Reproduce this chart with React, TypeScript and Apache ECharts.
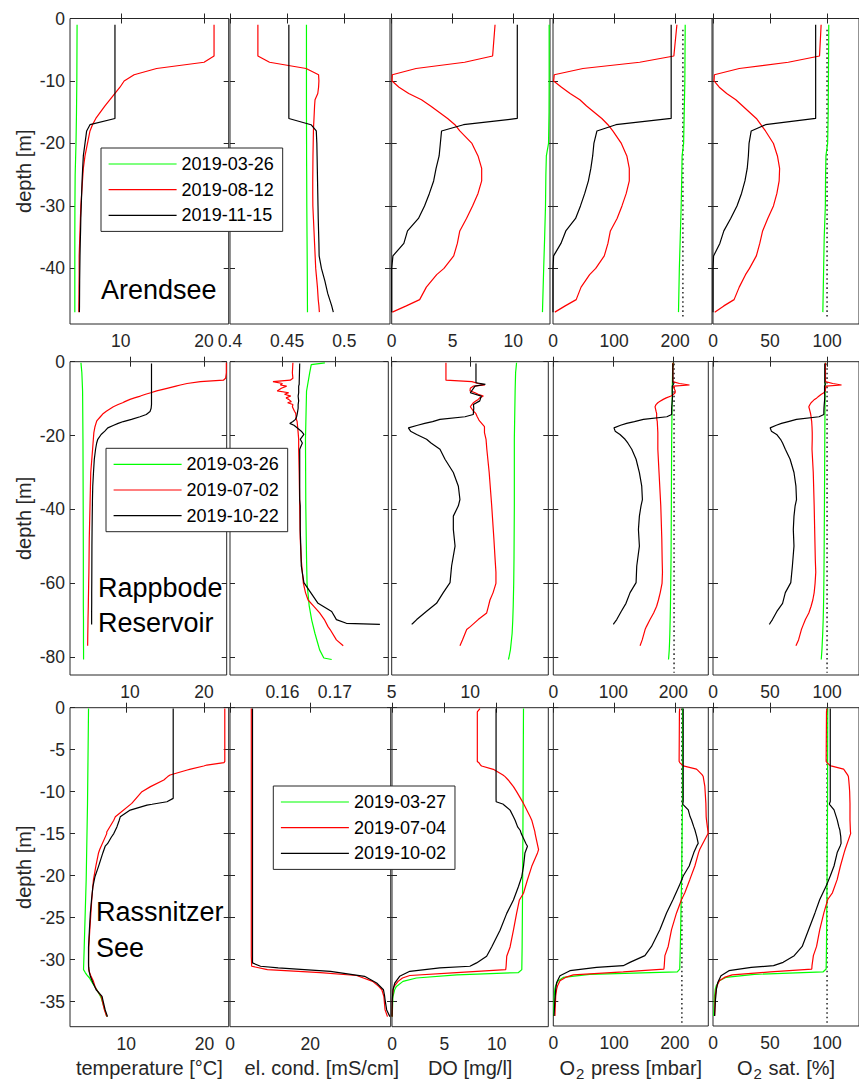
import React, { useEffect, useRef } from 'react';
import * as echarts from 'echarts';

const FONT = '"Liberation Sans", Arial, Helvetica, sans-serif';
const AX = '#262626';
const COLORS = ['#00ff00', '#ff0000', '#000000'];

// ---------------- Arendsee ----------------
const arendseeDates = ['2019-03-26', '2019-08-12', '2019-11-15'];

const aMarDepth = [-1, -10, -15, -20, -22, -25, -30, -35, -40, -47];
const aMarTemp = [4.75, 4.72, 4.68, 4.62, 4.58, 4.52, 4.49, 4.48, 4.48, 4.48];
const aMarCond = [0.4669, 0.4669, 0.4669, 0.467, 0.467, 0.4671, 0.4672, 0.4674, 0.4676, 0.4678];
const aMarDO = [12.95, 12.95, 12.94, 12.9, 12.72, 12.68, 12.65, 12.58, 12.5, 12.4];
const aMarO2P = [216.6, 216, 215, 214, 211.5, 211, 210, 208.5, 207, 205.6];
const aMarO2S = [101.5, 101.2, 101, 100.5, 99, 98.7, 98.5, 97.5, 97, 96.3];

const aAugDepth = [-1, -6, -7, -8, -9, -10, -11, -12, -13, -14, -16, -17, -18, -20, -22, -24, -26, -28, -30, -32, -34, -36, -38, -40, -41, -43, -45, -46, -47];
const aAugTemp = [21.2, 21.2, 20.0, 14.3, 11.6, 10.4, 9.9, 9.3, 8.7, 8.1, 7.0, 6.6, 6.3, 6.0, 5.7, 5.5, 5.4, 5.3, 5.2, 5.15, 5.1, 5.05, 5.0, 5.0, 5.0, 4.98, 4.97, 4.96, 4.96];
const aAugCond = [0.4244, 0.4244, 0.4346, 0.4666, 0.4775, 0.4778, 0.4775, 0.4768, 0.4744, 0.474, 0.4735, 0.4732, 0.473, 0.4728, 0.4726, 0.4725, 0.4724, 0.4724, 0.4725, 0.473, 0.4735, 0.474, 0.4745, 0.475, 0.4755, 0.4765, 0.4772, 0.4778, 0.4782];
const aAugDO = [8.5, 8.3, 6.0, 2.0, 0.05, 0.03, 0.6, 1.4, 2.45, 3.2, 4.6, 5.2, 5.6, 6.6, 7.1, 7.4, 7.4, 7.1, 6.65, 6.15, 5.6, 5.4, 5.1, 4.3, 3.7, 2.85, 2.3, 1.2, 0.05];
const aAugO2P = [203, 198, 142, 49, 2, 1, 14, 28, 44, 55, 80, 90, 98, 112, 121, 125, 125, 120, 113, 105, 94, 90, 84, 70, 60, 46, 38, 20, 3];
const aAugO2S = [94.8, 93.4, 66, 23, 1.2, 0.9, 5.5, 12, 20, 26, 38, 42, 46, 53, 56.5, 58.4, 58, 56, 53, 48, 43.5, 41, 38, 32, 28.5, 23, 18.5, 9.5, 1.5];

const aNovDepth = [-1, -16, -17, -18, -20, -22, -24, -26, -28, -30, -32, -34, -36, -38, -40, -42, -44, -46, -47];
const aNovTemp = [9.3, 9.3, 6.3, 5.9, 5.7, 5.5, 5.42, 5.35, 5.3, 5.25, 5.2, 5.17, 5.13, 5.1, 5.08, 5.06, 5.05, 5.04, 5.03];
const aNovCond = [0.4515, 0.4515, 0.4709, 0.4755, 0.476, 0.4762, 0.4764, 0.4766, 0.4768, 0.477, 0.4772, 0.4775, 0.4778, 0.478, 0.48, 0.483, 0.4855, 0.489, 0.4904];
const aNovDO = [10.33, 10.33, 5.9, 4.1, 4.0, 3.9, 3.65, 3.45, 3.1, 2.7, 2.2, 1.3, 1.0, 0.1, 0, 0, 0, 0, 0];
const aNovO2P = [193.6, 193.6, 103, 72, 67, 65, 62, 58, 52, 45, 37, 21, 13, 1, 0, 0, 0, 0, 0];
const aNovO2S = [90, 90, 46, 33.5, 31.6, 31, 30, 28, 25, 21, 15.5, 9.5, 6, 0.5, 0, 0, 0, 0, 0];

// ---------------- Rappbode Reservoir ----------------
const rappbodeDates = ['2019-03-26', '2019-07-02', '2019-10-22'];

const bMarDepth = [-0.3, -0.8, -3, -8, -21, -39, -53, -60, -66, -70, -73.5, -76, -78, -80.2, -80.6];
const bMarTemp = [3.38, 3.4, 3.5, 3.6, 3.65, 3.68, 3.7, 3.7, 3.7, 3.72, 3.72, 3.72, 3.73, 3.73, 3.73];
const bMarCond = [0.1681, 0.1655, 0.1652, 0.1646, 0.1644, 0.16446, 0.1646, 0.1647, 0.1651, 0.1656, 0.1662, 0.1667, 0.1671, 0.1679, 0.1694];
const bMarDO = [12.94, 12.93, 12.88, 12.85, 12.8, 12.8, 12.78, 12.76, 12.73, 12.7, 12.66, 12.6, 12.55, 12.45, 12.42];
const bMarO2P = [199, 199, 198.5, 198, 197, 196.5, 196, 195.5, 195, 194.5, 194, 193.5, 193, 192, 191.7];
const bMarO2S = [98.6, 98.6, 98.5, 98.3, 98, 97.7, 97.4, 97.2, 96.9, 96.6, 96.2, 95.8, 95.5, 95, 94.9];

const bJulDepth = [-0.3, -3, -4.5, -5, -5.4, -5.9, -6.3, -6.6, -7.2, -7.9, -8.4, -8.8, -9.3, -9.8, -10.2, -10.8, -11.1, -11.6, -12.2, -13.4, -14, -14.9, -15.8, -16.1, -17.6, -19.2, -21, -23.7, -30, -39, -48, -53.7, -57, -60, -62.5, -64.5, -66.2, -68, -69.8, -71.7, -72.5, -75.3, -76.9];
const bJulTemp = [23.0, 23.0, 22.9, 22.6, 19.5, 17.7, 16.8, 16.2, 15.0, 13.6, 12.8, 12.1, 11.4, 10.6, 10.0, 9.3, 9.0, 8.4, 7.75, 6.8, 6.4, 6.0, 5.6, 5.5, 5.27, 5.12, 5.05, 4.95, 4.7, 4.6, 4.5, 4.47, 4.45, 4.42, 4.4, 4.38, 4.37, 4.35, 4.33, 4.32, 4.31, 4.29, 4.28];
const bJulCond = [0.162, 0.1619, 0.162, 0.1615, 0.1582, 0.16, 0.1596, 0.1608, 0.1598, 0.159, 0.1612, 0.1604, 0.1616, 0.1607, 0.1612, 0.1617, 0.161, 0.162, 0.1619, 0.1623, 0.16255, 0.1626, 0.1627, 0.1628, 0.1629, 0.163, 0.1631, 0.1631, 0.1632, 0.1633, 0.1634, 0.1636, 0.1638, 0.164, 0.1644, 0.1649, 0.166, 0.1671, 0.168, 0.1687, 0.1691, 0.1703, 0.1716];
const bJulDO = [8.45, 8.45, 8.45, 8.45, 10.1, 10.5, 10.93, 10.2, 10.0, 9.98, 10.3, 10.5, 10.83, 10.6, 10.5, 10.3, 10.2, 10.1, 10.0, 10.2, 10.35, 10.44, 10.55, 10.6, 10.9, 10.9, 11.0, 11.05, 11.2, 11.36, 11.5, 11.58, 11.63, 11.63, 11.45, 11.25, 11.15, 11.04, 10.5, 10.0, 9.77, 9.5, 9.34];
const bJulO2P = [199, 199, 199, 199, 199, 210, 226.7, 200, 201, 203, 202.8, 200, 196, 188, 183, 177, 174, 171, 169.4, 171, 172, 172, 172.5, 173, 173.5, 174, 174, 174, 176, 178.9, 180.6, 181.2, 181.7, 181, 178, 175, 172, 167, 161, 155, 152.8, 148, 144.4];
const bJulO2S = [98.6, 98.6, 98.6, 98.6, 98.6, 105, 112.7, 99, 98.6, 98.5, 97.2, 95, 93, 91, 89, 87, 86, 85, 84, 85, 85.5, 86, 86.3, 86.5, 86.8, 87, 87, 86.8, 87.9, 88.7, 89.3, 89.7, 90.1, 89.5, 88.7, 87.5, 86, 84, 81, 78.5, 77.5, 75, 72.7];

const bOctDepth = [-0.5, -5.7, -6.1, -6.6, -8.4, -9.3, -10.6, -11.6, -12.6, -13.5, -14.3, -14.9, -15.6, -16.2, -16.7, -17.2, -17.9, -18.8, -19.7, -21, -22, -23.7, -26.4, -30, -33.7, -37.3, -39, -41.8, -45.4, -49.9, -55.3, -59.8, -62.5, -65.4, -67.6, -69.8, -70.8, -71.1];
const bOctTemp = [12.9, 12.9, 12.9, 12.9, 12.9, 12.9, 12.9, 12.9, 12.85, 12.7, 12.2, 11.35, 10.2, 9.1, 8.4, 7.8, 7.0, 6.6, 6.1, 5.65, 5.5, 5.35, 5.18, 5.07, 4.97, 4.93, 4.92, 4.9, 4.88, 4.86, 4.85, 4.84, 4.83, 4.83, 4.82, 4.82, 4.82, 4.82];
const bOctCond = [0.1633, 0.1632, 0.1632, 0.1631, 0.1631, 0.163, 0.1631, 0.163, 0.163, 0.1629, 0.1628, 0.1627, 0.1625, 0.162, 0.1614, 0.1622, 0.1628, 0.1636, 0.1641, 0.1634, 0.1638, 0.1633, 0.1633, 0.1633, 0.1633, 0.1633, 0.1634, 0.1634, 0.1634, 0.1635, 0.1636, 0.1641, 0.1654, 0.1668, 0.1694, 0.1703, 0.1722, 0.1786];
const bOctDO = [10.36, 10.36, 10.96, 10.3, 10.0, 10.7, 10.6, 10.2, 10.22, 10.2, 10.19, 9.66, 8.07, 7.6, 7.1, 6.65, 6.06, 6.2, 6.59, 7.22, 7.5, 8.07, 8.39, 8.92, 9.24, 9.34, 9.24, 8.92, 8.92, 9.03, 8.81, 8.71, 8.28, 7.85, 7.2, 6.59, 6.35, 6.27];
const bOctO2P = [199, 199, 200, 198, 198, 198.5, 198, 197.5, 197, 197, 197, 189, 150, 135, 122, 112, 101, 103, 111, 119.4, 124, 130.6, 137.8, 143.3, 147.2, 148.3, 146, 143.3, 141.7, 143.3, 138.9, 137.8, 127.8, 121, 113, 105.6, 101, 100];
const bOctO2S = [98, 98, 98.5, 97.8, 97.8, 98, 97.8, 97.5, 97.3, 97.2, 97.2, 93, 73.2, 66, 60, 55.5, 50.1, 51.2, 55.8, 59.2, 61, 63.4, 67.6, 71, 72.7, 73.2, 72, 71, 70.4, 71, 69.6, 68.2, 63.4, 61, 56, 52.1, 50, 49.3];

// ---------------- Rassnitzer See ----------------
const rassnitzerDates = ['2019-03-27', '2019-07-04', '2019-10-02'];

const cMarDepth = [-0.1, -11.4, -20.5, -28.5, -31.2, -31.55, -31.83, -32.2, -32.6, -33.2, -33.6, -34.4, -34.6, -36.8];
const cMarTemp = [5.17, 5.04, 4.87, 4.62, 4.53, 4.75, 4.95, 5.3, 5.55, 5.95, 6.24, 6.7, 6.8, 7.5];
const cMarDO = [12.56, 12.52, 12.48, 12.43, 12.4, 12.08, 6.2, 2.33, 1.05, 0.42, 0.25, 0.1, 0.08, 0.02];
const cMarO2P = [212.6, 212.5, 211, 209, 208, 204, 60, 16.4, 8.2, 3.8, 2.5, 1.6, 1.4, 0.5];
const cMarO2S = [100.6, 100.4, 100, 99.5, 99.2, 96.4, 36.3, 11.2, 5.6, 2.8, 2, 1.4, 1.2, 0.6];

const cJulDepth = [-0.1, -0.5, -6.4, -6.55, -6.83, -6.94, -7.34, -7.42, -8.02, -8.21, -8.61, -9.4, -10, -11.4, -13, -13.4, -14.8, -15, -16.9, -17.3, -18.9, -20.5, -22.1, -22.9, -24.5, -26.5, -28.5, -29.6, -30.8, -31.2, -31.55, -31.9, -32.2, -32.6, -33.2, -33.6, -34.4, -36, -36.8];
const cJulTemp = [22.6, 22.6, 22.6, 22.5, 20.3, 19.9, 18.1, 17.8, 15.6, 15.3, 14.8, 13.1, 12.0, 10.7, 8.6, 8.4, 7.5, 7.5, 6.6, 6.45, 6.1, 5.8, 5.65, 5.58, 5.47, 5.33, 5.2, 5.18, 5.17, 5.2, 5.3, 5.45, 5.6, 5.8, 6.0, 6.2, 6.8, 7.2, 7.5];
const cJulCond = [5.3, 5.3, 5.3, 5.3, 5.3, 5.3, 5.3, 5.3, 5.3, 5.3, 5.3, 5.3, 5.3, 5.3, 5.3, 5.3, 5.3, 5.3, 5.3, 5.3, 5.3, 5.3, 5.3, 5.3, 5.3, 5.3, 5.3, 5.3, 5.4, 9.3, 22.5, 31.5, 33.2, 35.5, 37, 37.8, 38.3, 38.6, 39.2];
const cJulDO = [8.4, 8.15, 8.15, 8.3, 8.45, 8.56, 9.68, 9.8, 10.6, 10.8, 11.1, 11.6, 11.9, 12.56, 13.2, 13.35, 13.65, 13.67, 14.0, 13.9, 13.35, 12.94, 12.56, 12.17, 11.9, 11.6, 11.28, 10.96, 10.9, 10.86, 6.17, 1.7, 1.0, 0.58, 0.2, 0.1, 0.05, 0.02, 0];
const cJulO2P = [208, 207.5, 207, 208, 212, 213.7, 235.6, 237, 245, 246.6, 247.5, 249.3, 249.8, 251, 251.5, 252, 254.5, 254.8, 241, 239, 232.9, 224.7, 216.4, 211, 202.7, 194.5, 189, 183.6, 182.5, 182, 115, 32.9, 20, 11, 7, 5.5, 4, 3, 2.7];
const cJulO2S = [100, 99.5, 99.2, 100, 102, 103.4, 114.5, 115, 118, 118.7, 119, 119.5, 119.8, 120.1, 120.1, 120.1, 120.5, 120.7, 115.9, 115, 111.7, 108.9, 104.7, 100.6, 97.2, 93.6, 90.8, 88, 86.8, 86.6, 50.3, 16.8, 10, 5.6, 3.5, 2.8, 2, 1.6, 1.4];

const cOctDepth = [-0.1, -10.8, -11.2, -11.5, -11.6, -12.2, -13, -13.4, -14.2, -14.6, -15, -15.4, -16.2, -16.5, -17.3, -18.9, -20.1, -21.3, -22.9, -24.5, -26.5, -28.5, -29.6, -30.4, -30.8, -31.0, -31.4, -32, -32.8, -33.6, -34.4, -34.8, -36, -36.8];
const cOctTemp = [16.0, 16.0, 15.2, 13.3, 12.65, 10.5, 9.23, 9.1, 8.8, 8.6, 8.4, 8.1, 7.6, 7.3, 7.0, 6.45, 6.0, 5.73, 5.55, 5.4, 5.28, 5.17, 5.17, 5.17, 5.18, 5.2, 5.25, 5.4, 5.75, 6.15, 6.9, 7.0, 7.3, 7.6];
const cOctCond = [5.6, 5.6, 5.6, 5.6, 5.6, 5.6, 5.6, 5.6, 5.6, 5.6, 5.6, 5.6, 5.6, 5.6, 5.6, 5.6, 5.6, 5.6, 5.6, 5.6, 5.6, 5.6, 5.6, 5.6, 7.6, 12, 25, 33.5, 36.5, 38.2, 38.5, 38.6, 39, 39.8];
const cOctDO = [9.94, 9.94, 9.95, 10.64, 10.7, 11.28, 11.6, 11.76, 12.0, 12.24, 12.35, 12.5, 12.8, 12.94, 12.7, 12.56, 12.4, 12.08, 11.6, 10.96, 10.32, 9.52, 9.04, 8.08, 7.44, 4.57, 1.7, 0.73, 0.26, 0.1, 0.05, 0.03, 0.01, 0];
const cOctO2P = [213.7, 213.7, 213.7, 213, 214, 222, 225, 227.4, 231, 233, 234.5, 236, 238.4, 236, 231.2, 223.6, 213.7, 207, 197, 186.3, 175.3, 161.6, 150.7, 126, 115, 71.2, 27.4, 11, 5.5, 4, 3.2, 2.7, 1.8, 1.1];
const cOctO2S = [102.8, 102.8, 102.8, 102, 102.5, 106.1, 108, 108.9, 110.3, 111.2, 111.6, 112, 112.3, 111.5, 108.9, 106.1, 102.8, 99.2, 93.6, 89.4, 83.8, 78.2, 71.2, 61.5, 53.1, 33.5, 14, 7, 4.2, 3, 2.5, 2.2, 1.7, 1.4];

// saturation reference (dotted lines) per lake
const refO2Press = [212.8, 201, 211.5];
const refO2Sat = [100, 100, 100];
const refDepthTop = [-1.8, -0.5, -0.1];
const refDepthBottom = [-47.7, -84.2, -37.6];

// axis ranges and tick labels
const lakeNames = ['Arendsee', 'Rappbode\nReservoir', 'Rassnitzer\nSee'];
const yRanges = [[-48.9, 0], [-84.8, 0], [-38, 0]];
const yTicks = [
  [-40, -30, -20, -10, 0],
  [-80, -60, -40, -20, 0],
  [-35, -30, -25, -20, -15, -10, -5, 0],
];
const xRanges = [
  [[3.9, 22.96], [0.4, 0.54], [0, 13.02], [0, 260.5], [0, 128]],
  [[1.9, 23.05], [0.15, 0.1802], [5, 14.96], [0, 258], [0, 128]],
  [[2.8, 23.1], [0, 40], [0, 14.93], [0, 255], [0, 128]],
];
const xTicks = [
  [[10, 20], [0.4, 0.45, 0.5], [0, 5, 10], [0, 100, 200], [0, 50, 100]],
  [[10, 20], [0.16, 0.17], [5, 10], [0, 100, 200], [0, 50, 100]],
  [[10, 20], [0, 20], [0, 5, 10], [0, 100, 200], [0, 50, 100]],
];
const variableNames = ['temperature [°C]', 'el. cond. [mS/cm]', 'DO [mg/l]', 'O{s|2} press [mbar]', 'O{s|2} sat. [%]'];

const lakes = [
  {
    dates: arendseeDates,
    profiles: [
      { depth: aMarDepth, values: [aMarTemp, aMarCond, aMarDO, aMarO2P, aMarO2S] },
      { depth: aAugDepth, values: [aAugTemp, aAugCond, aAugDO, aAugO2P, aAugO2S] },
      { depth: aNovDepth, values: [aNovTemp, aNovCond, aNovDO, aNovO2P, aNovO2S] },
    ],
  },
  {
    dates: rappbodeDates,
    profiles: [
      { depth: bMarDepth, values: [bMarTemp, bMarCond, bMarDO, bMarO2P, bMarO2S] },
      { depth: bJulDepth, values: [bJulTemp, bJulCond, bJulDO, bJulO2P, bJulO2S] },
      { depth: bOctDepth, values: [bOctTemp, bOctCond, bOctDO, bOctO2P, bOctO2S] },
    ],
  },
  {
    dates: rassnitzerDates,
    profiles: [
      { depth: cMarDepth, values: [cMarTemp, null, cMarDO, cMarO2P, cMarO2S] },
      { depth: cJulDepth, values: [cJulTemp, cJulCond, cJulDO, cJulO2P, cJulO2S] },
      { depth: cOctDepth, values: [cOctTemp, cOctCond, cOctDO, cOctO2P, cOctO2S] },
    ],
  },
];

// ---------------- layout (pixels) ----------------
const rowBoxes = [[18.5, 324], [361.7, 675], [707.7, 1026.7]];
const colBoxes = [
  [[70, 228.7], [230, 390], [391.7, 550], [553, 712], [713, 864]],
  [[70, 226.7], [230, 388.3], [391.7, 548.3], [553.3, 708.3], [713, 864]],
  [[70, 228.7], [230, 390.7], [392, 548.3], [553.3, 708.3], [713, 864]],
];
const legendPos = [[101, 148], [106, 448.3], [273.3, 786]];
const lakeLabelPos = [[101, 272], [98, 570.5], [96, 894]];

function buildOption() {
  const grid: any[] = [];
  const xAxis: any[] = [];
  const yAxis: any[] = [];
  const series: any[] = [];
  const legend: any[] = [];
  const graphic: any[] = [];

  lakes.forEach((lake, r) => {
    const [T, B] = rowBoxes[r];
    for (let c = 0; c < 5; c++) {
      const g = r * 5 + c;
      const [L, R] = colBoxes[r][c];
      grid.push({
        left: L, top: T, width: R - L, height: B - T,
        show: true, borderColor: AX, borderWidth: 1, backgroundColor: 'rgba(0,0,0,0)',
      });
      const [xmin, xmax] = xRanges[r][c];
      const ticks = xTicks[r][c];
      const tickStyle = { inside: true, length: 5, customValues: ticks, lineStyle: { color: AX, width: 1 } };
      xAxis.push({
        type: 'value', gridIndex: g, position: 'bottom', min: xmin, max: xmax,
        axisLine: { show: false }, splitLine: { show: false },
        axisTick: tickStyle,
        axisLabel: { customValues: ticks, margin: 8, fontSize: 17.5, color: AX, fontFamily: FONT },
        name: r === 2 ? variableNames[c] : '',
        nameLocation: 'middle',
        nameGap: c >= 3 ? 28 : 31,
        nameTextStyle: {
          fontSize: 20, color: AX, fontFamily: FONT,
          padding: c === 1 ? [0, 0, 0, 23] : 0,
          rich: { s: { fontSize: 15, color: AX, fontFamily: FONT, padding: [12, 1, 0, 1] } },
        },
      });
      xAxis.push({
        type: 'value', gridIndex: g, position: 'top', min: xmin, max: xmax,
        axisLine: { show: false }, splitLine: { show: false },
        axisTick: tickStyle, axisLabel: { show: false },
      });
      const [ymin, ymax] = yRanges[r];
      const yt = yTicks[r];
      const yTickStyle = { inside: true, length: 5, customValues: yt, lineStyle: { color: AX, width: 1 } };
      yAxis.push({
        type: 'value', gridIndex: g, position: 'left', min: ymin, max: ymax,
        axisLine: { show: false }, splitLine: { show: false },
        axisTick: yTickStyle,
        axisLabel: c === 0
          ? { customValues: yt, margin: 5, fontSize: 17.5, color: AX, fontFamily: FONT }
          : { show: false },
        name: c === 0 ? 'depth [m]' : '',
        nameLocation: 'middle', nameGap: 36, nameRotate: 90,
        nameTextStyle: { fontSize: 20, color: AX, fontFamily: FONT },
      });
      yAxis.push({
        type: 'value', gridIndex: g, position: 'right', min: ymin, max: ymax,
        axisLine: { show: false }, splitLine: { show: false },
        axisTick: yTickStyle, axisLabel: { show: false },
      });

      // reference (saturation) dotted lines
      if (c === 3 || c === 4) {
        const ref = c === 3 ? refO2Press[r] : refO2Sat[r];
        series.push({
          type: 'line', name: 'saturation', xAxisIndex: 2 * g, yAxisIndex: 2 * g,
          data: [[ref, refDepthTop[r]], [ref, refDepthBottom[r]]],
          symbol: 'none', showSymbol: false, silent: true, clip: true,
          lineStyle: { color: '#333333', width: 1.6, type: [1.6, 3] },
          z: 2,
        });
      }

      lake.profiles.forEach((p, k) => {
        const vals = p.values[c];
        if (!vals) return;
        series.push({
          type: 'line', name: lake.dates[k], xAxisIndex: 2 * g, yAxisIndex: 2 * g,
          data: p.depth.map((d, i) => [vals[i], d]),
          symbol: 'none', showSymbol: false, silent: true, clip: true,
          lineStyle: { color: COLORS[k], width: 1.2 },
          itemStyle: { color: COLORS[k] },
          z: 3 + k,
        });
      });
    }

    legend.push({
      data: lake.dates,
      orient: 'vertical',
      left: legendPos[r][0], top: legendPos[r][1],
      padding: [7, 9, 7, 7],
      itemGap: 7.7,
      itemWidth: 68, itemHeight: 18,
      borderColor: AX, borderWidth: 1, backgroundColor: '#ffffff',
      selectedMode: false,
      itemStyle: { opacity: 0, borderWidth: 0 },
      lineStyle: { width: 1.2, opacity: 1 },
      textStyle: { fontSize: 18, color: '#000', fontFamily: FONT },
      z: 20,
    });

    graphic.push({
      type: 'text', left: lakeLabelPos[r][0], top: lakeLabelPos[r][1], z: 30,
      style: { text: lakeNames[r], fontSize: 27, lineHeight: r === 2 ? 36 : 35, fontFamily: FONT, fill: '#000' },
    });
  });

  return { animation: false, backgroundColor: '#ffffff', grid, xAxis, yAxis, series, legend, graphic };
}

export default function App() {
  const ref = useRef<HTMLDivElement>(null);
  useEffect(() => {
    if (!ref.current) return;
    const chart = echarts.init(ref.current, null, { renderer: 'svg' });
    chart.setOption(buildOption() as any);
    return () => chart.dispose();
  }, []);
  return (
    <div
      ref={ref}
      style={{ position: 'absolute', left: 0, top: 0, width: 859, height: 1082, background: '#fff' }}
    />
  );
}
